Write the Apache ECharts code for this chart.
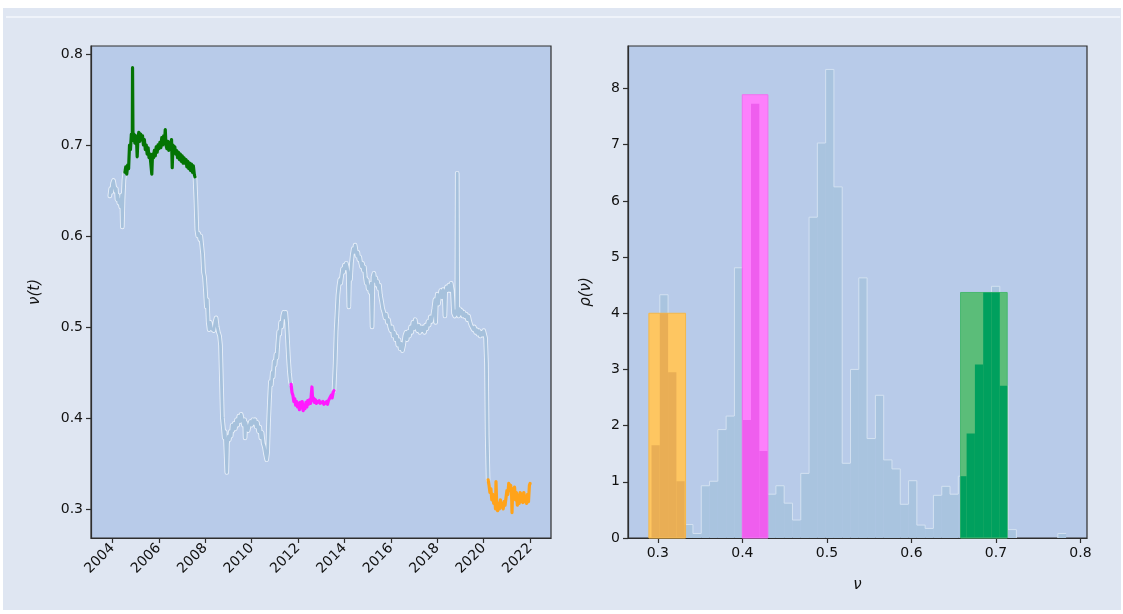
<!DOCTYPE html>
<html>
<head>
<meta charset="utf-8">
<script src="https://cdn.jsdelivr.net/npm/echarts@6/dist/echarts.min.js"></script>
<style>
html,body{margin:0;padding:0;background:#ffffff;}
#c{width:1123px;height:614px;}
</style>
</head>
<body>
<div id="c"></div>
<script>
// ---------- DATA ----------
const yearTicks = [2004, 2006, 2008, 2010, 2012, 2014, 2016, 2018, 2020, 2022];
const nuTicks = [0.3, 0.4, 0.5, 0.6, 0.7, 0.8];
const rhoTicks = [0, 1, 2, 3, 4, 5, 6, 7, 8];

const blueSeg1 = [[2003.89,0.644],[2003.93,0.652],[2003.97,0.648],[2004.01,0.658],[2004.05,0.661],[2004.09,0.655],[2004.13,0.649],[2004.17,0.652],[2004.2,0.640],[2004.24,0.645],[2004.28,0.636],[2004.32,0.640],[2004.36,0.632],[2004.40,0.645],[2004.43,0.610],[2004.46,0.640],[2004.5,0.662],[2004.54,0.670]];

const greenSeg = [[2004.54,0.670],[2004.58,0.676],[2004.62,0.668],[2004.66,0.678],[2004.70,0.674],[2004.74,0.700],[2004.78,0.695],[2004.82,0.712],[2004.86,0.705],[2004.87,0.785],[2004.89,0.705],[2004.93,0.712],[2004.97,0.702],[2005.01,0.710],[2005.05,0.700],[2005.07,0.687],[2005.10,0.706],[2005.14,0.714],[2005.18,0.704],[2005.22,0.712],[2005.26,0.707],[2005.30,0.710],[2005.34,0.700],[2005.38,0.706],[2005.42,0.695],[2005.46,0.700],[2005.50,0.690],[2005.54,0.697],[2005.58,0.686],[2005.62,0.690],[2005.66,0.688],[2005.70,0.668],[2005.73,0.690],[2005.77,0.686],[2005.81,0.694],[2005.85,0.688],[2005.89,0.698],[2005.93,0.692],[2005.97,0.700],[2006.01,0.696],[2006.05,0.703],[2006.09,0.697],[2006.13,0.708],[2006.17,0.700],[2006.21,0.710],[2006.25,0.704],[2006.28,0.717],[2006.31,0.700],[2006.35,0.696],[2006.39,0.704],[2006.43,0.694],[2006.47,0.703],[2006.51,0.698],[2006.55,0.706],[2006.58,0.675],[2006.61,0.700],[2006.65,0.692],[2006.69,0.698],[2006.73,0.690],[2006.77,0.694],[2006.81,0.686],[2006.85,0.692],[2006.89,0.684],[2006.93,0.690],[2006.97,0.682],[2007.01,0.688],[2007.05,0.680],[2007.09,0.686],[2007.13,0.680],[2007.17,0.684],[2007.21,0.676],[2007.25,0.682],[2007.29,0.674],[2007.33,0.680],[2007.37,0.672],[2007.41,0.679],[2007.45,0.670],[2007.49,0.677],[2007.53,0.668],[2007.56,0.665]];

const blueSeg2 = [[2007.56,0.665],[2007.60,0.640],[2007.64,0.607],[2007.68,0.600],[2007.72,0.603],[2007.77,0.596],[2007.81,0.600],[2007.85,0.590],[2007.89,0.580],[2007.93,0.560],[2007.97,0.555],[2008.01,0.540],[2008.05,0.522],[2008.09,0.530],[2008.13,0.505],[2008.17,0.497],[2008.22,0.505],[2008.27,0.498],[2008.32,0.500],[2008.37,0.496],[2008.42,0.505],[2008.47,0.510],[2008.52,0.500],[2008.57,0.494],[2008.62,0.490],[2008.66,0.480],[2008.70,0.440],[2008.74,0.400],[2008.78,0.390],[2008.82,0.378],[2008.86,0.385],[2008.90,0.360],[2008.93,0.340],[2008.96,0.372],[2009.0,0.380],[2009.04,0.376],[2009.08,0.385],[2009.12,0.380],[2009.16,0.392],[2009.20,0.386],[2009.25,0.394],[2009.30,0.388],[2009.35,0.398],[2009.40,0.392],[2009.45,0.402],[2009.50,0.396],[2009.55,0.404],[2009.60,0.398],[2009.65,0.392],[2009.70,0.398],[2009.72,0.378],[2009.75,0.395],[2009.80,0.390],[2009.85,0.386],[2009.90,0.392],[2009.95,0.396],[2010.0,0.392],[2010.05,0.398],[2010.10,0.394],[2010.15,0.398],[2010.20,0.390],[2010.25,0.395],[2010.30,0.385],[2010.35,0.390],[2010.40,0.378],[2010.45,0.384],[2010.50,0.372],[2010.55,0.368],[2010.60,0.360],[2010.65,0.354],[2010.69,0.362],[2010.73,0.395],[2010.77,0.420],[2010.81,0.440],[2010.85,0.436],[2010.89,0.450],[2010.93,0.445],[2010.97,0.462],[2011.01,0.458],[2011.05,0.470],[2011.09,0.466],[2011.13,0.482],[2011.17,0.495],[2011.21,0.492],[2011.25,0.505],[2011.30,0.500],[2011.34,0.512],[2011.38,0.516],[2011.43,0.510],[2011.47,0.516],[2011.51,0.504],[2011.55,0.485],[2011.59,0.465],[2011.63,0.450],[2011.67,0.440],[2011.70,0.437]];

const magentaSeg = [[2011.70,0.437],[2011.74,0.428],[2011.78,0.425],[2011.82,0.418],[2011.86,0.421],[2011.90,0.414],[2011.94,0.418],[2011.98,0.412],[2012.02,0.416],[2012.06,0.409],[2012.10,0.417],[2012.14,0.411],[2012.18,0.418],[2012.22,0.408],[2012.26,0.414],[2012.30,0.410],[2012.34,0.417],[2012.38,0.412],[2012.42,0.419],[2012.46,0.415],[2012.50,0.420],[2012.54,0.416],[2012.58,0.418],[2012.60,0.434],[2012.63,0.419],[2012.67,0.422],[2012.71,0.417],[2012.75,0.420],[2012.79,0.416],[2012.83,0.418],[2012.87,0.415],[2012.91,0.419],[2012.95,0.416],[2012.99,0.418],[2013.03,0.414],[2013.07,0.418],[2013.11,0.415],[2013.15,0.417],[2013.19,0.414],[2013.23,0.418],[2013.27,0.415],[2013.31,0.419],[2013.35,0.417],[2013.39,0.421],[2013.43,0.425],[2013.47,0.422],[2013.51,0.428],[2013.55,0.430]];

const blueSeg3 = [[2013.55,0.430],[2013.60,0.460],[2013.64,0.495],[2013.68,0.515],[2013.72,0.535],[2013.76,0.545],[2013.80,0.552],[2013.84,0.548],[2013.88,0.556],[2013.92,0.564],[2013.96,0.560],[2014.00,0.568],[2014.04,0.564],[2014.08,0.570],[2014.12,0.566],[2014.16,0.560],[2014.19,0.522],[2014.22,0.556],[2014.26,0.552],[2014.30,0.570],[2014.34,0.580],[2014.38,0.586],[2014.42,0.582],[2014.46,0.590],[2014.50,0.584],[2014.54,0.578],[2014.58,0.582],[2014.62,0.574],[2014.66,0.577],[2014.70,0.570],[2014.74,0.566],[2014.78,0.570],[2014.82,0.562],[2014.86,0.566],[2014.90,0.555],[2014.94,0.548],[2014.98,0.552],[2015.02,0.542],[2015.06,0.545],[2015.10,0.538],[2015.15,0.548],[2015.19,0.500],[2015.23,0.555],[2015.27,0.559],[2015.31,0.550],[2015.35,0.554],[2015.39,0.546],[2015.43,0.550],[2015.47,0.542],[2015.51,0.546],[2015.55,0.535],[2015.60,0.528],[2015.65,0.520],[2015.70,0.516],[2015.75,0.510],[2015.80,0.514],[2015.85,0.505],[2015.90,0.508],[2015.95,0.500],[2016.0,0.496],[2016.05,0.500],[2016.10,0.490],[2016.15,0.494],[2016.20,0.486],[2016.25,0.490],[2016.30,0.480],[2016.35,0.486],[2016.40,0.476],[2016.45,0.482],[2016.50,0.474],[2016.55,0.480],[2016.60,0.490],[2016.65,0.494],[2016.70,0.486],[2016.75,0.495],[2016.80,0.490],[2016.85,0.500],[2016.90,0.494],[2016.95,0.505],[2017.0,0.498],[2017.05,0.508],[2017.10,0.500],[2017.15,0.496],[2017.20,0.502],[2017.25,0.494],[2017.30,0.500],[2017.35,0.496],[2017.40,0.500],[2017.45,0.494],[2017.50,0.502],[2017.55,0.498],[2017.60,0.506],[2017.65,0.502],[2017.70,0.511],[2017.75,0.506],[2017.80,0.512],[2017.85,0.520],[2017.90,0.530],[2017.93,0.505],[2017.96,0.528],[2018.00,0.536],[2018.05,0.525],[2018.10,0.534],[2018.15,0.540],[2018.20,0.532],[2018.25,0.541],[2018.30,0.535],[2018.33,0.512],[2018.36,0.538],[2018.40,0.544],[2018.45,0.540],[2018.50,0.546],[2018.55,0.540],[2018.60,0.548],[2018.65,0.540],[2018.70,0.515],[2018.75,0.512],[2018.80,0.518],[2018.84,0.514],[2018.86,0.669],[2018.88,0.518],[2018.92,0.512],[2018.96,0.520],[2019.00,0.514],[2019.05,0.518],[2019.10,0.512],[2019.15,0.516],[2019.20,0.511],[2019.25,0.514],[2019.30,0.508],[2019.35,0.512],[2019.40,0.506],[2019.45,0.502],[2019.50,0.500],[2019.55,0.497],[2019.60,0.500],[2019.65,0.494],[2019.70,0.497],[2019.75,0.492],[2019.80,0.496],[2019.85,0.490],[2019.90,0.494],[2019.95,0.491],[2020.00,0.496],[2020.05,0.494],[2020.08,0.488],[2020.12,0.460],[2020.15,0.380],[2020.19,0.332]];

const orangeSeg = [[2020.19,0.332],[2020.23,0.326],[2020.27,0.318],[2020.31,0.322],[2020.35,0.310],[2020.39,0.316],[2020.43,0.306],[2020.47,0.312],[2020.51,0.300],[2020.53,0.330],[2020.56,0.305],[2020.60,0.298],[2020.64,0.306],[2020.68,0.300],[2020.72,0.310],[2020.76,0.302],[2020.80,0.306],[2020.84,0.300],[2020.88,0.308],[2020.92,0.304],[2020.96,0.312],[2021.00,0.320],[2021.04,0.316],[2021.08,0.328],[2021.12,0.320],[2021.16,0.326],[2021.20,0.318],[2021.22,0.296],[2021.25,0.322],[2021.29,0.314],[2021.33,0.324],[2021.37,0.310],[2021.41,0.318],[2021.45,0.304],[2021.49,0.315],[2021.53,0.306],[2021.57,0.318],[2021.61,0.308],[2021.65,0.316],[2021.69,0.307],[2021.73,0.318],[2021.77,0.308],[2021.81,0.314],[2021.85,0.306],[2021.89,0.316],[2021.93,0.308],[2021.97,0.326],[2022.0,0.328]];

// histogram of nu (density), 50 bins
const binStart = 0.2925;
const binWidth = 0.00981;
const histDensity = [1.65,4.33,2.95,1.01,0.24,0.08,0.93,1.01,1.93,2.17,4.81,2.10,7.73,1.55,0.78,0.93,0.62,0.32,1.15,5.71,7.03,8.34,6.25,1.33,3.00,4.63,1.77,2.54,1.39,1.23,0.60,1.02,0.23,0.17,0.76,0.92,0.78,1.10,1.86,3.09,4.37,4.48,2.71,0.15,0,0,0,0,0,0.08];

// highlighted regime boxes: [from, to, height]
const regimeOrange = [0.2894, 0.3328, 4.00];
const regimeMagenta = [0.3999, 0.4302, 7.89];
const regimeGreen = [0.6581, 0.7133, 4.37];

// ---------- STYLE ----------
const COL = {
  panel: '#dfe6f2', plot: '#b8cbe9', frame: '#2e2e2e',
  line: '#a6c1dc', halo: 'rgba(240,246,252,0.85)',
  hist: '#a9c4df', histEdge: '#d3e1f1',
  orange: ['#fec661', '#e9ae55', '#f5b84a'],
  magenta: ['#fd80fc', '#ef5eee', '#f070f0'],
  green: ['#5bbd79', '#00a05e', '#48b870']
};
const FONT = 'DejaVu Sans';

const bins = histDensity.map((h, i) => [binStart + i * binWidth, binStart + (i + 1) * binWidth, h, i > 0 ? histDensity[i - 1] : 0]);
const regimes = [
  { r: regimeOrange, c: COL.orange },
  { r: regimeMagenta, c: COL.magenta },
  { r: regimeGreen, c: COL.green }
];
const overlaps = [];
regimes.forEach((g, gi) => {
  bins.forEach(b => {
    const a = Math.max(b[0], g.r[0]), z = Math.min(b[1], g.r[1]);
    if (z > a && b[2] > 0) overlaps.push([a, z, Math.min(b[2], g.r[2]), gi]);
  });
});

const chart = echarts.init(document.getElementById('c'), null, { renderer: 'canvas' });

const axisCommon = {
  axisLine: { show: true, onZero: false, lineStyle: { color: COL.frame, width: 1.2 } },
  axisTick: { show: true, length: 5, lineStyle: { color: COL.frame, width: 1.2 } },
  splitLine: { show: false },
  axisLabel: { color: '#111', fontFamily: FONT, fontSize: 14 }
};

function lineSeries(data, color, width, z) {
  return { type: 'line', xAxisIndex: 0, yAxisIndex: 0, data: data, showSymbol: false, symbol: 'none',
    lineStyle: { color: color, width: width, join: 'round', cap: 'round' }, z: z, animation: false, silent: true };
}

const option = {
  animation: false,
  backgroundColor: '#ffffff',
  graphic: [
    { type: 'rect', shape: { x: 3, y: 8, width: 1118, height: 602 }, style: { fill: COL.panel }, z: -10 },
    { type: 'line', shape: { x1: 6, y1: 17, x2: 1120, y2: 17 }, style: { stroke: '#f4f7fc', lineWidth: 1.5 }, z: -9 }
  ],
  grid: [
    { left: 91, top: 46, width: 460, height: 492, show: true, backgroundColor: COL.plot, borderColor: COL.frame, borderWidth: 1.2 },
    { left: 628, top: 46, width: 459, height: 492, show: true, backgroundColor: COL.plot, borderColor: COL.frame, borderWidth: 1.2 }
  ],
  xAxis: [
    Object.assign({}, axisCommon, { type: 'value', gridIndex: 0, min: 2003.08, max: 2022.9,
      axisTick: Object.assign({}, axisCommon.axisTick, { customValues: yearTicks }),
      axisLabel: Object.assign({}, axisCommon.axisLabel, { customValues: yearTicks, rotate: 45, margin: 8, formatter: v => String(Math.round(v)) }) }),
    Object.assign({}, axisCommon, { type: 'value', gridIndex: 1, min: 0.2647, max: 0.8077,
      name: 'ν', nameLocation: 'middle', nameGap: 40,
      nameTextStyle: { fontFamily: FONT, fontStyle: 'italic', fontSize: 15, color: '#111' },
      axisTick: Object.assign({}, axisCommon.axisTick, { customValues: nuTicks }),
      axisLabel: Object.assign({}, axisCommon.axisLabel, { customValues: nuTicks, margin: 8, formatter: v => v.toFixed(1) }) })
  ],
  yAxis: [
    Object.assign({}, axisCommon, { type: 'value', gridIndex: 0, min: 0.268, max: 0.8088,
      name: 'ν(t)', nameLocation: 'middle', nameGap: 48, nameRotate: 90,
      nameTextStyle: { fontFamily: FONT, fontStyle: 'italic', fontSize: 15, color: '#111' },
      axisTick: Object.assign({}, axisCommon.axisTick, { customValues: nuTicks }),
      axisLabel: Object.assign({}, axisCommon.axisLabel, { customValues: nuTicks, margin: 8, formatter: v => v.toFixed(1) }) }),
    Object.assign({}, axisCommon, { type: 'value', gridIndex: 1, min: 0, max: 8.757,
      name: 'ρ(ν)', nameLocation: 'middle', nameGap: 34, nameRotate: 90,
      nameTextStyle: { fontFamily: FONT, fontStyle: 'italic', fontSize: 15, color: '#111' },
      axisTick: Object.assign({}, axisCommon.axisTick, { customValues: rhoTicks }),
      axisLabel: Object.assign({}, axisCommon.axisLabel, { customValues: rhoTicks, margin: 8, formatter: v => String(Math.round(v)) }) })
  ],
  series: [
    lineSeries(blueSeg1, COL.halo, 4.6, 2),
    lineSeries(blueSeg2, COL.halo, 4.6, 2),
    lineSeries(blueSeg3, COL.halo, 4.6, 2),
    lineSeries(blueSeg1, COL.line, 2.8, 3),
    lineSeries(blueSeg2, COL.line, 2.8, 3),
    lineSeries(blueSeg3, COL.line, 2.8, 3),
    lineSeries(greenSeg, '#047404', 3.2, 4),
    lineSeries(magentaSeg, '#ff1aff', 3.2, 4),
    lineSeries(orangeSeg, '#ffa31a', 3.2, 4),
    {
      type: 'custom', xAxisIndex: 1, yAxisIndex: 1, data: bins, z: 2, silent: true,
      renderItem: function (params, api) {
        const x0 = api.value(0), x1 = api.value(1), h = api.value(2), hp = api.value(3);
        const p0 = api.coord([x0, 0]), p1 = api.coord([x1, h]), pp = api.coord([x0, hp]);
        const children = [];
        if (h > 0) {
          children.push({ type: 'rect', shape: { x: p0[0], y: p1[1], width: p1[0] - p0[0], height: p0[1] - p1[1] }, style: { fill: COL.hist } });
          children.push({ type: 'polyline', shape: { points: [[p0[0], pp[1]], [p0[0], p1[1]], [p1[0], p1[1]]] }, style: { stroke: COL.histEdge, lineWidth: 1, fill: null } });
        } else if (hp > 0) {
          children.push({ type: 'line', shape: { x1: p0[0], y1: pp[1], x2: p0[0], y2: p0[1] }, style: { stroke: COL.histEdge, lineWidth: 1 } });
        }
        return { type: 'group', children: children };
      }
    },
    {
      type: 'custom', xAxisIndex: 1, yAxisIndex: 1, z: 3, silent: true,
      data: regimes.map((g, i) => [g.r[0], g.r[1], g.r[2], i]),
      renderItem: function (params, api) {
        const a = api.coord([api.value(0), api.value(2)]), b = api.coord([api.value(1), 0]);
        const c = regimes[api.value(3)].c;
        return { type: 'rect', shape: { x: a[0], y: a[1], width: b[0] - a[0], height: b[1] - a[1] },
          style: { fill: c[0], stroke: c[2], lineWidth: 1 } };
      }
    },
    {
      type: 'custom', xAxisIndex: 1, yAxisIndex: 1, z: 4, silent: true, data: overlaps,
      renderItem: function (params, api) {
        const a = api.coord([api.value(0), api.value(2)]), b = api.coord([api.value(1), 0]);
        const c = regimes[api.value(3)].c;
        return { type: 'rect', shape: { x: a[0], y: a[1], width: b[0] - a[0], height: b[1] - a[1] - 0.5 },
          style: { fill: c[1] } };
      }
    }
  ]
};
chart.setOption(option);
</script>
</body>
</html>
